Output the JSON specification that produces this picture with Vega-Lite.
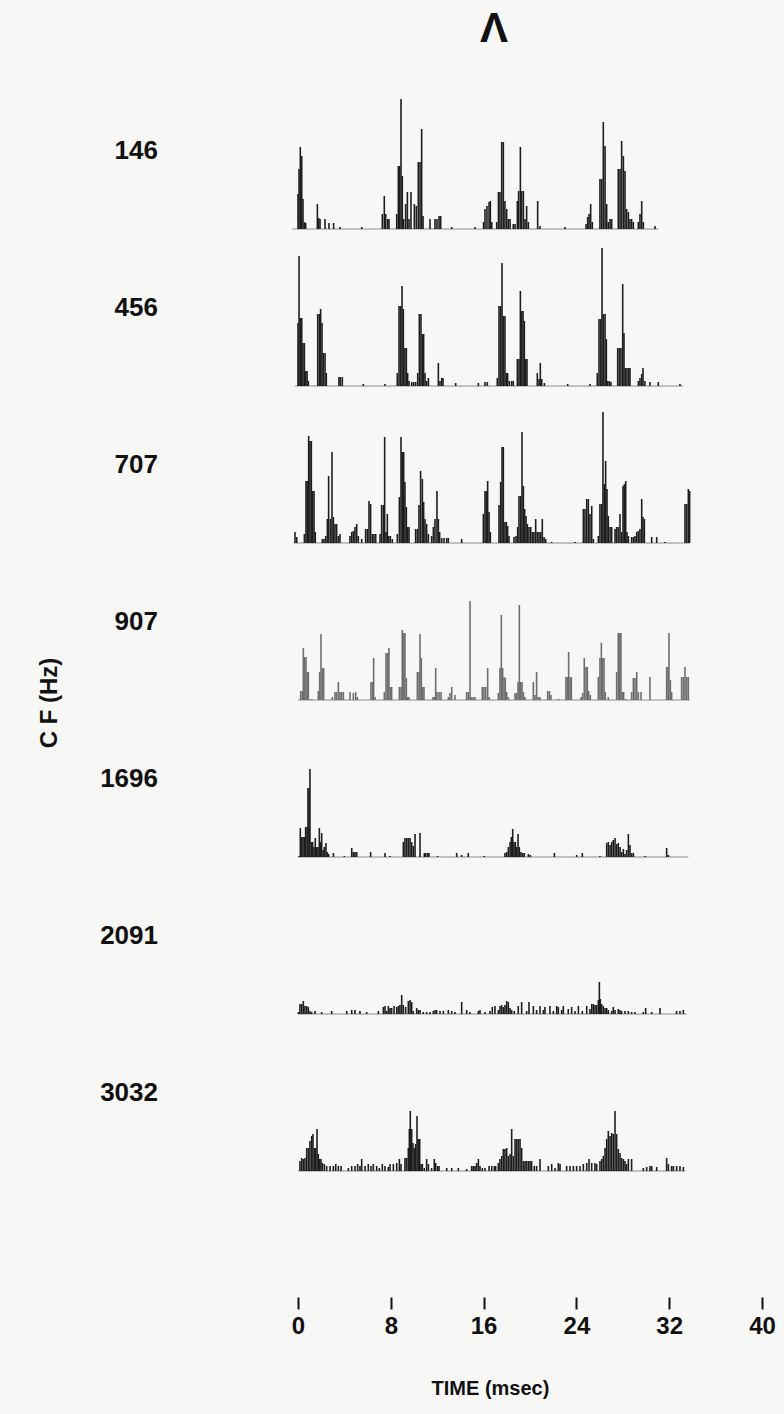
{
"$schema": "https://vega.github.io/schema/vega-lite/v6.json",
"padding": {"left": 38, "top": 8, "right": 10, "bottom": 22},
"background": "#f7f7f5",
"title": {"text": "Λ", "fontSize": 42, "fontWeight": "bold", "font": "Liberation Sans, Arial, sans-serif", "color": "#111111", "anchor": "middle", "frame": "group", "offset": 22, "dx": 196},
"data": {"values": [
{"c":"146","t":-0.5,"n":0},{"c":"146","t":0,"n":35},{"c":"146","t":0.09,"n":60},{"c":"146","t":0.2,"n":82},{"c":"146","t":0.32,"n":73},{"c":"146","t":0.43,"n":30},{"c":"146","t":0.55,"n":7},{"c":"146","t":0.66,"n":6},{"c":"146","t":1.67,"n":25},{"c":"146","t":1.78,"n":11},{"c":"146","t":1.9,"n":10},{"c":"146","t":2.33,"n":10},{"c":"146","t":2.67,"n":6},{"c":"146","t":3.07,"n":6},{"c":"146","t":3.62,"n":2},{"c":"146","t":5.49,"n":2},{"c":"146","t":7.27,"n":15},{"c":"146","t":7.44,"n":33},{"c":"146","t":7.56,"n":15},{"c":"146","t":7.73,"n":10},{"c":"146","t":7.84,"n":10},{"c":"146","t":8.51,"n":15},{"c":"146","t":8.65,"n":63},{"c":"146","t":8.76,"n":63},{"c":"146","t":8.88,"n":130},{"c":"146","t":8.99,"n":53},{"c":"146","t":9.11,"n":10},{"c":"146","t":9.28,"n":25},{"c":"146","t":9.43,"n":37},{"c":"146","t":9.57,"n":10},{"c":"146","t":9.74,"n":37},{"c":"146","t":10.03,"n":25},{"c":"146","t":10.2,"n":23},{"c":"146","t":10.37,"n":67},{"c":"146","t":10.52,"n":67},{"c":"146","t":10.66,"n":100},{"c":"146","t":10.78,"n":13},{"c":"146","t":11.38,"n":10},{"c":"146","t":11.81,"n":10},{"c":"146","t":11.98,"n":10},{"c":"146","t":12.16,"n":13},{"c":"146","t":12.3,"n":13},{"c":"146","t":13.25,"n":2},{"c":"146","t":15.26,"n":2},{"c":"146","t":16.0,"n":7},{"c":"146","t":16.12,"n":20},{"c":"146","t":16.29,"n":23},{"c":"146","t":16.47,"n":27},{"c":"146","t":16.58,"n":28},{"c":"146","t":16.7,"n":7},{"c":"146","t":17.13,"n":7},{"c":"146","t":17.28,"n":37},{"c":"146","t":17.41,"n":37},{"c":"146","t":17.56,"n":87},{"c":"146","t":17.7,"n":87},{"c":"146","t":17.84,"n":28},{"c":"146","t":17.99,"n":20},{"c":"146","t":18.13,"n":10},{"c":"146","t":18.28,"n":10},{"c":"146","t":18.56,"n":5},{"c":"146","t":18.71,"n":5},{"c":"146","t":18.91,"n":28},{"c":"146","t":19.02,"n":38},{"c":"146","t":19.17,"n":82},{"c":"146","t":19.28,"n":38},{"c":"146","t":19.43,"n":38},{"c":"146","t":19.57,"n":10},{"c":"146","t":19.71,"n":23},{"c":"146","t":19.86,"n":7},{"c":"146","t":20.66,"n":28},{"c":"146","t":20.86,"n":3},{"c":"146","t":23.02,"n":2},{"c":"146","t":24.83,"n":5},{"c":"146","t":24.97,"n":12},{"c":"146","t":25.09,"n":15},{"c":"146","t":25.23,"n":25},{"c":"146","t":25.37,"n":7},{"c":"146","t":26.03,"n":50},{"c":"146","t":26.18,"n":50},{"c":"146","t":26.32,"n":107},{"c":"146","t":26.47,"n":83},{"c":"146","t":26.61,"n":25},{"c":"146","t":26.75,"n":7},{"c":"146","t":26.9,"n":10},{"c":"146","t":27.04,"n":10},{"c":"146","t":27.61,"n":60},{"c":"146","t":27.76,"n":60},{"c":"146","t":27.9,"n":88},{"c":"146","t":28.05,"n":73},{"c":"146","t":28.19,"n":58},{"c":"146","t":28.33,"n":20},{"c":"146","t":28.48,"n":17},{"c":"146","t":28.62,"n":10},{"c":"146","t":28.76,"n":10},{"c":"146","t":28.91,"n":7},{"c":"146","t":29.34,"n":7},{"c":"146","t":29.48,"n":15},{"c":"146","t":29.63,"n":28},{"c":"146","t":29.77,"n":7},{"c":"146","t":30.78,"n":3},{"c":"146","t":31.1,"n":0},
{"c":"456","t":-0.26,"n":0},{"c":"456","t":0,"n":63},{"c":"456","t":0.09,"n":130},{"c":"456","t":0.2,"n":68},{"c":"456","t":0.32,"n":68},{"c":"456","t":0.43,"n":43},{"c":"456","t":0.55,"n":43},{"c":"456","t":0.66,"n":15},{"c":"456","t":0.78,"n":15},{"c":"456","t":0.89,"n":5},{"c":"456","t":1.7,"n":72},{"c":"456","t":1.84,"n":72},{"c":"456","t":1.95,"n":77},{"c":"456","t":2.07,"n":63},{"c":"456","t":2.18,"n":33},{"c":"456","t":2.33,"n":33},{"c":"456","t":2.44,"n":13},{"c":"456","t":3.53,"n":9},{"c":"456","t":3.65,"n":9},{"c":"456","t":3.82,"n":9},{"c":"456","t":5.63,"n":2},{"c":"456","t":7.5,"n":2},{"c":"456","t":8.56,"n":13},{"c":"456","t":8.71,"n":80},{"c":"456","t":8.85,"n":80},{"c":"456","t":8.97,"n":100},{"c":"456","t":9.08,"n":77},{"c":"456","t":9.22,"n":38},{"c":"456","t":9.34,"n":38},{"c":"456","t":9.45,"n":13},{"c":"456","t":9.57,"n":5},{"c":"456","t":9.8,"n":4},{"c":"456","t":9.97,"n":4},{"c":"456","t":10.14,"n":4},{"c":"456","t":10.32,"n":13},{"c":"456","t":10.46,"n":72},{"c":"456","t":10.6,"n":72},{"c":"456","t":10.72,"n":52},{"c":"456","t":10.83,"n":52},{"c":"456","t":10.95,"n":13},{"c":"456","t":11.09,"n":5},{"c":"456","t":11.24,"n":8},{"c":"456","t":12.1,"n":23},{"c":"456","t":12.24,"n":5},{"c":"456","t":12.39,"n":8},{"c":"456","t":12.5,"n":8},{"c":"456","t":13.59,"n":3},{"c":"456","t":15.55,"n":3},{"c":"456","t":16.12,"n":4},{"c":"456","t":16.32,"n":4},{"c":"456","t":17.18,"n":8},{"c":"456","t":17.33,"n":80},{"c":"456","t":17.47,"n":80},{"c":"456","t":17.59,"n":123},{"c":"456","t":17.7,"n":70},{"c":"456","t":17.84,"n":70},{"c":"456","t":17.96,"n":13},{"c":"456","t":18.07,"n":13},{"c":"456","t":18.22,"n":5},{"c":"456","t":18.42,"n":5},{"c":"456","t":18.56,"n":5},{"c":"456","t":18.91,"n":27},{"c":"456","t":19.05,"n":27},{"c":"456","t":19.17,"n":95},{"c":"456","t":19.28,"n":75},{"c":"456","t":19.4,"n":75},{"c":"456","t":19.51,"n":65},{"c":"456","t":19.63,"n":27},{"c":"456","t":19.74,"n":27},{"c":"456","t":20.63,"n":13},{"c":"456","t":20.78,"n":7},{"c":"456","t":20.89,"n":23},{"c":"456","t":21.01,"n":7},{"c":"456","t":21.24,"n":3},{"c":"456","t":23.25,"n":2},{"c":"456","t":25.17,"n":2},{"c":"456","t":25.8,"n":13},{"c":"456","t":25.95,"n":67},{"c":"456","t":26.09,"n":67},{"c":"456","t":26.21,"n":138},{"c":"456","t":26.32,"n":72},{"c":"456","t":26.47,"n":72},{"c":"456","t":26.58,"n":47},{"c":"456","t":26.7,"n":5},{"c":"456","t":26.84,"n":5},{"c":"456","t":26.98,"n":4},{"c":"456","t":27.56,"n":38},{"c":"456","t":27.7,"n":38},{"c":"456","t":27.84,"n":38},{"c":"456","t":27.99,"n":102},{"c":"456","t":28.1,"n":53},{"c":"456","t":28.22,"n":18},{"c":"456","t":28.36,"n":18},{"c":"456","t":28.51,"n":18},{"c":"456","t":28.62,"n":18},{"c":"456","t":29.34,"n":5},{"c":"456","t":29.48,"n":8},{"c":"456","t":29.63,"n":12},{"c":"456","t":29.74,"n":18},{"c":"456","t":29.91,"n":5},{"c":"456","t":30.34,"n":4},{"c":"456","t":31.06,"n":4},{"c":"456","t":32.93,"n":2},{"c":"456","t":33.2,"n":0},
{"c":"707","t":-0.4,"n":0},{"c":"707","t":-0.26,"n":11},{"c":"707","t":-0.11,"n":6},{"c":"707","t":0.55,"n":9},{"c":"707","t":0.69,"n":62},{"c":"707","t":0.8,"n":62},{"c":"707","t":0.92,"n":107},{"c":"707","t":1.03,"n":102},{"c":"707","t":1.15,"n":102},{"c":"707","t":1.26,"n":52},{"c":"707","t":1.38,"n":52},{"c":"707","t":1.49,"n":11},{"c":"707","t":2.1,"n":4},{"c":"707","t":2.24,"n":4},{"c":"707","t":2.39,"n":7},{"c":"707","t":2.53,"n":24},{"c":"707","t":2.64,"n":67},{"c":"707","t":2.79,"n":24},{"c":"707","t":2.93,"n":91},{"c":"707","t":3.05,"n":26},{"c":"707","t":3.19,"n":19},{"c":"707","t":3.33,"n":19},{"c":"707","t":3.48,"n":7},{"c":"707","t":3.62,"n":9},{"c":"707","t":4.48,"n":7},{"c":"707","t":4.63,"n":11},{"c":"707","t":4.77,"n":12},{"c":"707","t":4.91,"n":16},{"c":"707","t":5.06,"n":19},{"c":"707","t":5.2,"n":7},{"c":"707","t":5.49,"n":4},{"c":"707","t":5.83,"n":14},{"c":"707","t":5.98,"n":14},{"c":"707","t":6.12,"n":42},{"c":"707","t":6.26,"n":39},{"c":"707","t":6.41,"n":9},{"c":"707","t":6.55,"n":9},{"c":"707","t":6.7,"n":9},{"c":"707","t":7.07,"n":9},{"c":"707","t":7.21,"n":38},{"c":"707","t":7.36,"n":38},{"c":"707","t":7.47,"n":106},{"c":"707","t":7.59,"n":11},{"c":"707","t":7.7,"n":29},{"c":"707","t":7.82,"n":7},{"c":"707","t":7.96,"n":7},{"c":"707","t":8.13,"n":4},{"c":"707","t":8.56,"n":9},{"c":"707","t":8.74,"n":46},{"c":"707","t":8.88,"n":106},{"c":"707","t":8.99,"n":91},{"c":"707","t":9.11,"n":91},{"c":"707","t":9.22,"n":61},{"c":"707","t":9.34,"n":36},{"c":"707","t":9.45,"n":16},{"c":"707","t":9.57,"n":16},{"c":"707","t":10.14,"n":14},{"c":"707","t":10.29,"n":14},{"c":"707","t":10.43,"n":38},{"c":"707","t":10.57,"n":72},{"c":"707","t":10.72,"n":64},{"c":"707","t":10.83,"n":41},{"c":"707","t":10.95,"n":24},{"c":"707","t":11.09,"n":19},{"c":"707","t":11.24,"n":9},{"c":"707","t":11.52,"n":7},{"c":"707","t":11.67,"n":16},{"c":"707","t":11.81,"n":24},{"c":"707","t":11.98,"n":52},{"c":"707","t":12.1,"n":24},{"c":"707","t":12.21,"n":11},{"c":"707","t":12.39,"n":5},{"c":"707","t":12.59,"n":5},{"c":"707","t":12.82,"n":5},{"c":"707","t":12.96,"n":5},{"c":"707","t":14.11,"n":4},{"c":"707","t":15.98,"n":29},{"c":"707","t":16.12,"n":52},{"c":"707","t":16.24,"n":52},{"c":"707","t":16.35,"n":62},{"c":"707","t":16.47,"n":31},{"c":"707","t":16.58,"n":11},{"c":"707","t":17.33,"n":38},{"c":"707","t":17.47,"n":61},{"c":"707","t":17.59,"n":96},{"c":"707","t":17.7,"n":96},{"c":"707","t":17.84,"n":21},{"c":"707","t":17.96,"n":21},{"c":"707","t":18.07,"n":17},{"c":"707","t":18.19,"n":7},{"c":"707","t":18.62,"n":6},{"c":"707","t":18.79,"n":7},{"c":"707","t":18.94,"n":16},{"c":"707","t":19.05,"n":47},{"c":"707","t":19.2,"n":47},{"c":"707","t":19.31,"n":111},{"c":"707","t":19.43,"n":57},{"c":"707","t":19.54,"n":34},{"c":"707","t":19.66,"n":27},{"c":"707","t":19.77,"n":19},{"c":"707","t":19.91,"n":16},{"c":"707","t":20.06,"n":16},{"c":"707","t":20.2,"n":11},{"c":"707","t":20.34,"n":11},{"c":"707","t":20.49,"n":24},{"c":"707","t":20.63,"n":11},{"c":"707","t":20.78,"n":11},{"c":"707","t":20.92,"n":11},{"c":"707","t":21.06,"n":24},{"c":"707","t":21.21,"n":6},{"c":"707","t":21.35,"n":4},{"c":"707","t":21.87,"n":1},{"c":"707","t":23.88,"n":1},{"c":"707","t":24.6,"n":34},{"c":"707","t":24.74,"n":34},{"c":"707","t":24.89,"n":44},{"c":"707","t":25.03,"n":44},{"c":"707","t":25.17,"n":29},{"c":"707","t":25.32,"n":37},{"c":"707","t":25.46,"n":4},{"c":"707","t":25.89,"n":7},{"c":"707","t":26.03,"n":39},{"c":"707","t":26.18,"n":39},{"c":"707","t":26.29,"n":131},{"c":"707","t":26.41,"n":59},{"c":"707","t":26.52,"n":82},{"c":"707","t":26.64,"n":54},{"c":"707","t":26.75,"n":27},{"c":"707","t":26.9,"n":16},{"c":"707","t":27.04,"n":16},{"c":"707","t":27.33,"n":14},{"c":"707","t":27.47,"n":16},{"c":"707","t":27.61,"n":16},{"c":"707","t":27.76,"n":29},{"c":"707","t":27.9,"n":11},{"c":"707","t":28.02,"n":57},{"c":"707","t":28.13,"n":59},{"c":"707","t":28.25,"n":62},{"c":"707","t":28.36,"n":11},{"c":"707","t":28.48,"n":7},{"c":"707","t":28.76,"n":6},{"c":"707","t":28.91,"n":6},{"c":"707","t":29.05,"n":7},{"c":"707","t":29.2,"n":11},{"c":"707","t":29.34,"n":12},{"c":"707","t":29.48,"n":14},{"c":"707","t":29.63,"n":44},{"c":"707","t":29.74,"n":26},{"c":"707","t":29.86,"n":24},{"c":"707","t":30.49,"n":6},{"c":"707","t":30.92,"n":6},{"c":"707","t":31.64,"n":1},{"c":"707","t":33.36,"n":39},{"c":"707","t":33.51,"n":39},{"c":"707","t":33.65,"n":54},{"c":"707","t":33.76,"n":52},
{"c":"907","t":0,"n":0},{"c":"907","t":0.23,"n":9},{"c":"907","t":0.37,"n":9},{"c":"907","t":0.46,"n":52},{"c":"907","t":0.57,"n":43},{"c":"907","t":0.69,"n":43},{"c":"907","t":0.8,"n":28},{"c":"907","t":0.89,"n":28},{"c":"907","t":1.18,"n":1},{"c":"907","t":1.75,"n":9},{"c":"907","t":1.87,"n":28},{"c":"907","t":1.98,"n":66},{"c":"907","t":2.1,"n":32},{"c":"907","t":2.21,"n":32},{"c":"907","t":2.96,"n":3},{"c":"907","t":3.19,"n":8},{"c":"907","t":3.33,"n":8},{"c":"907","t":3.48,"n":18},{"c":"907","t":3.62,"n":8},{"c":"907","t":3.76,"n":8},{"c":"907","t":3.91,"n":8},{"c":"907","t":4.48,"n":8},{"c":"907","t":4.77,"n":7},{"c":"907","t":4.97,"n":8},{"c":"907","t":5.11,"n":3},{"c":"907","t":6.29,"n":18},{"c":"907","t":6.44,"n":18},{"c":"907","t":6.52,"n":42},{"c":"907","t":6.64,"n":3},{"c":"907","t":7.44,"n":8},{"c":"907","t":7.59,"n":47},{"c":"907","t":7.73,"n":47},{"c":"907","t":7.84,"n":52},{"c":"907","t":7.96,"n":13},{"c":"907","t":8.07,"n":13},{"c":"907","t":8.74,"n":13},{"c":"907","t":8.88,"n":13},{"c":"907","t":8.99,"n":70},{"c":"907","t":9.11,"n":67},{"c":"907","t":9.22,"n":67},{"c":"907","t":9.34,"n":22},{"c":"907","t":9.45,"n":3},{"c":"907","t":9.57,"n":3},{"c":"907","t":10.29,"n":28},{"c":"907","t":10.43,"n":28},{"c":"907","t":10.52,"n":66},{"c":"907","t":10.63,"n":42},{"c":"907","t":10.75,"n":13},{"c":"907","t":10.86,"n":13},{"c":"907","t":11.64,"n":3},{"c":"907","t":11.75,"n":3},{"c":"907","t":11.87,"n":32},{"c":"907","t":11.98,"n":8},{"c":"907","t":12.16,"n":8},{"c":"907","t":12.33,"n":8},{"c":"907","t":12.96,"n":3},{"c":"907","t":13.1,"n":7},{"c":"907","t":13.25,"n":13},{"c":"907","t":13.53,"n":5},{"c":"907","t":14.54,"n":8},{"c":"907","t":14.68,"n":8},{"c":"907","t":14.83,"n":99},{"c":"907","t":14.97,"n":3},{"c":"907","t":15.11,"n":3},{"c":"907","t":15.26,"n":3},{"c":"907","t":15.89,"n":13},{"c":"907","t":16.03,"n":13},{"c":"907","t":16.18,"n":13},{"c":"907","t":16.35,"n":32},{"c":"907","t":16.49,"n":3},{"c":"907","t":17.27,"n":7},{"c":"907","t":17.41,"n":32},{"c":"907","t":17.53,"n":85},{"c":"907","t":17.64,"n":32},{"c":"907","t":17.76,"n":23},{"c":"907","t":17.87,"n":22},{"c":"907","t":17.99,"n":8},{"c":"907","t":18.13,"n":3},{"c":"907","t":18.71,"n":7},{"c":"907","t":18.85,"n":7},{"c":"907","t":18.97,"n":18},{"c":"907","t":19.08,"n":95},{"c":"907","t":19.2,"n":18},{"c":"907","t":19.31,"n":18},{"c":"907","t":19.43,"n":8},{"c":"907","t":19.57,"n":3},{"c":"907","t":20.29,"n":18},{"c":"907","t":20.43,"n":5},{"c":"907","t":20.57,"n":28},{"c":"907","t":20.72,"n":3},{"c":"907","t":20.86,"n":3},{"c":"907","t":21.52,"n":9},{"c":"907","t":21.67,"n":9},{"c":"907","t":21.81,"n":5},{"c":"907","t":22.44,"n":1},{"c":"907","t":23.1,"n":23},{"c":"907","t":23.22,"n":23},{"c":"907","t":23.33,"n":48},{"c":"907","t":23.45,"n":23},{"c":"907","t":23.56,"n":23},{"c":"907","t":24.4,"n":3},{"c":"907","t":24.54,"n":7},{"c":"907","t":24.68,"n":42},{"c":"907","t":24.83,"n":33},{"c":"907","t":24.94,"n":33},{"c":"907","t":25.06,"n":9},{"c":"907","t":25.2,"n":5},{"c":"907","t":25.89,"n":23},{"c":"907","t":26.03,"n":42},{"c":"907","t":26.15,"n":57},{"c":"907","t":26.26,"n":42},{"c":"907","t":26.38,"n":42},{"c":"907","t":26.49,"n":8},{"c":"907","t":26.75,"n":3},{"c":"907","t":27.47,"n":28},{"c":"907","t":27.61,"n":67},{"c":"907","t":27.73,"n":67},{"c":"907","t":27.84,"n":67},{"c":"907","t":27.96,"n":8},{"c":"907","t":28.07,"n":8},{"c":"907","t":28.25,"n":1},{"c":"907","t":28.76,"n":8},{"c":"907","t":28.91,"n":22},{"c":"907","t":29.05,"n":22},{"c":"907","t":29.2,"n":28},{"c":"907","t":29.34,"n":8},{"c":"907","t":29.57,"n":8},{"c":"907","t":30.34,"n":23},{"c":"907","t":31.78,"n":33},{"c":"907","t":31.9,"n":33},{"c":"907","t":31.98,"n":67},{"c":"907","t":32.1,"n":20},{"c":"907","t":32.21,"n":8},{"c":"907","t":33.07,"n":23},{"c":"907","t":33.22,"n":23},{"c":"907","t":33.36,"n":33},{"c":"907","t":33.51,"n":23},{"c":"907","t":33.65,"n":23},{"c":"907","t":33.8,"n":0},
{"c":"1696","t":0,"n":0},{"c":"1696","t":0.09,"n":1},{"c":"1696","t":0.2,"n":29},{"c":"1696","t":0.32,"n":20},{"c":"1696","t":0.43,"n":20},{"c":"1696","t":0.55,"n":20},{"c":"1696","t":0.66,"n":30},{"c":"1696","t":0.78,"n":30},{"c":"1696","t":0.86,"n":69},{"c":"1696","t":0.95,"n":69},{"c":"1696","t":1.03,"n":88},{"c":"1696","t":1.15,"n":15},{"c":"1696","t":1.26,"n":15},{"c":"1696","t":1.38,"n":10},{"c":"1696","t":1.49,"n":19},{"c":"1696","t":1.61,"n":10},{"c":"1696","t":1.72,"n":10},{"c":"1696","t":1.84,"n":29},{"c":"1696","t":1.95,"n":15},{"c":"1696","t":2.04,"n":24},{"c":"1696","t":2.16,"n":7},{"c":"1696","t":2.27,"n":10},{"c":"1696","t":2.41,"n":14},{"c":"1696","t":2.53,"n":5},{"c":"1696","t":2.64,"n":3},{"c":"1696","t":3.05,"n":4},{"c":"1696","t":3.99,"n":1},{"c":"1696","t":4.63,"n":9},{"c":"1696","t":4.77,"n":5},{"c":"1696","t":4.91,"n":5},{"c":"1696","t":5.06,"n":5},{"c":"1696","t":6.26,"n":5},{"c":"1696","t":7.5,"n":4},{"c":"1696","t":7.93,"n":1},{"c":"1696","t":9.08,"n":15},{"c":"1696","t":9.22,"n":19},{"c":"1696","t":9.37,"n":19},{"c":"1696","t":9.51,"n":19},{"c":"1696","t":9.66,"n":19},{"c":"1696","t":9.8,"n":15},{"c":"1696","t":9.94,"n":11},{"c":"1696","t":10.09,"n":23},{"c":"1696","t":10.52,"n":24},{"c":"1696","t":10.89,"n":4},{"c":"1696","t":11.01,"n":4},{"c":"1696","t":11.18,"n":4},{"c":"1696","t":11.29,"n":4},{"c":"1696","t":12.04,"n":1},{"c":"1696","t":13.68,"n":4},{"c":"1696","t":14.11,"n":2},{"c":"1696","t":14.68,"n":4},{"c":"1696","t":16.06,"n":1},{"c":"1696","t":17.84,"n":4},{"c":"1696","t":17.99,"n":5},{"c":"1696","t":18.13,"n":10},{"c":"1696","t":18.28,"n":15},{"c":"1696","t":18.39,"n":20},{"c":"1696","t":18.51,"n":28},{"c":"1696","t":18.62,"n":15},{"c":"1696","t":18.74,"n":15},{"c":"1696","t":18.85,"n":10},{"c":"1696","t":18.97,"n":23},{"c":"1696","t":19.08,"n":10},{"c":"1696","t":19.22,"n":5},{"c":"1696","t":19.37,"n":4},{"c":"1696","t":19.51,"n":4},{"c":"1696","t":19.86,"n":3},{"c":"1696","t":20.03,"n":2},{"c":"1696","t":22.1,"n":4},{"c":"1696","t":24.02,"n":2},{"c":"1696","t":24.51,"n":4},{"c":"1696","t":26.03,"n":1},{"c":"1696","t":26.61,"n":14},{"c":"1696","t":26.75,"n":15},{"c":"1696","t":26.9,"n":12},{"c":"1696","t":27.04,"n":15},{"c":"1696","t":27.18,"n":17},{"c":"1696","t":27.33,"n":19},{"c":"1696","t":27.47,"n":13},{"c":"1696","t":27.61,"n":14},{"c":"1696","t":27.76,"n":10},{"c":"1696","t":27.9,"n":5},{"c":"1696","t":28.05,"n":8},{"c":"1696","t":28.19,"n":3},{"c":"1696","t":28.33,"n":7},{"c":"1696","t":28.48,"n":23},{"c":"1696","t":28.62,"n":12},{"c":"1696","t":28.76,"n":4},{"c":"1696","t":28.91,"n":4},{"c":"1696","t":29.91,"n":1},{"c":"1696","t":31.78,"n":9},{"c":"1696","t":31.93,"n":2},{"c":"1696","t":33.65,"n":0},
{"c":"2091","t":0,"n":0},{"c":"2091","t":0.03,"n":2},{"c":"2091","t":0.17,"n":10},{"c":"2091","t":0.32,"n":10},{"c":"2091","t":0.46,"n":13},{"c":"2091","t":0.6,"n":8},{"c":"2091","t":0.75,"n":8},{"c":"2091","t":0.89,"n":7},{"c":"2091","t":1.03,"n":3},{"c":"2091","t":1.18,"n":2},{"c":"2091","t":1.47,"n":3},{"c":"2091","t":2.04,"n":2},{"c":"2091","t":2.9,"n":3},{"c":"2091","t":4.2,"n":3},{"c":"2091","t":4.63,"n":4},{"c":"2091","t":4.91,"n":4},{"c":"2091","t":5.34,"n":3},{"c":"2091","t":5.92,"n":2},{"c":"2091","t":6.93,"n":3},{"c":"2091","t":7.36,"n":7},{"c":"2091","t":7.5,"n":8},{"c":"2091","t":7.64,"n":3},{"c":"2091","t":7.79,"n":8},{"c":"2091","t":7.93,"n":6},{"c":"2091","t":8.07,"n":6},{"c":"2091","t":8.28,"n":8},{"c":"2091","t":8.51,"n":7},{"c":"2091","t":8.65,"n":8},{"c":"2091","t":8.79,"n":9},{"c":"2091","t":8.94,"n":19},{"c":"2091","t":9.08,"n":9},{"c":"2091","t":9.28,"n":7},{"c":"2091","t":9.51,"n":13},{"c":"2091","t":9.66,"n":14},{"c":"2091","t":9.8,"n":12},{"c":"2091","t":9.94,"n":3},{"c":"2091","t":10.23,"n":6},{"c":"2091","t":10.37,"n":4},{"c":"2091","t":10.52,"n":4},{"c":"2091","t":10.8,"n":2},{"c":"2091","t":11.09,"n":2},{"c":"2091","t":11.38,"n":2},{"c":"2091","t":11.67,"n":3},{"c":"2091","t":11.81,"n":4},{"c":"2091","t":11.95,"n":4},{"c":"2091","t":12.24,"n":3},{"c":"2091","t":12.53,"n":3},{"c":"2091","t":12.96,"n":4},{"c":"2091","t":13.25,"n":3},{"c":"2091","t":13.53,"n":2},{"c":"2091","t":14.11,"n":12},{"c":"2091","t":14.54,"n":4},{"c":"2091","t":14.83,"n":2},{"c":"2091","t":15.55,"n":3},{"c":"2091","t":15.69,"n":4},{"c":"2091","t":16.12,"n":2},{"c":"2091","t":16.55,"n":3},{"c":"2091","t":16.75,"n":7},{"c":"2091","t":16.98,"n":8},{"c":"2091","t":17.27,"n":4},{"c":"2091","t":17.41,"n":8},{"c":"2091","t":17.56,"n":9},{"c":"2091","t":17.7,"n":7},{"c":"2091","t":17.84,"n":9},{"c":"2091","t":17.99,"n":13},{"c":"2091","t":18.13,"n":12},{"c":"2091","t":18.28,"n":6},{"c":"2091","t":18.42,"n":4},{"c":"2091","t":18.65,"n":3},{"c":"2091","t":18.99,"n":8},{"c":"2091","t":19.28,"n":12},{"c":"2091","t":19.71,"n":3},{"c":"2091","t":19.91,"n":12},{"c":"2091","t":20.29,"n":8},{"c":"2091","t":20.57,"n":4},{"c":"2091","t":20.86,"n":8},{"c":"2091","t":21.15,"n":4},{"c":"2091","t":21.29,"n":7},{"c":"2091","t":21.72,"n":8},{"c":"2091","t":22.01,"n":3},{"c":"2091","t":22.3,"n":8},{"c":"2091","t":22.44,"n":7},{"c":"2091","t":22.73,"n":4},{"c":"2091","t":22.87,"n":8},{"c":"2091","t":23.3,"n":5},{"c":"2091","t":23.59,"n":7},{"c":"2091","t":23.88,"n":3},{"c":"2091","t":24.17,"n":8},{"c":"2091","t":24.51,"n":3},{"c":"2091","t":24.89,"n":8},{"c":"2091","t":25.17,"n":5},{"c":"2091","t":25.32,"n":10},{"c":"2091","t":25.46,"n":10},{"c":"2091","t":25.6,"n":9},{"c":"2091","t":25.75,"n":9},{"c":"2091","t":25.89,"n":14},{"c":"2091","t":25.98,"n":32},{"c":"2091","t":26.06,"n":15},{"c":"2091","t":26.18,"n":10},{"c":"2091","t":26.32,"n":8},{"c":"2091","t":26.47,"n":6},{"c":"2091","t":26.61,"n":6},{"c":"2091","t":26.75,"n":4},{"c":"2091","t":27.04,"n":3},{"c":"2091","t":27.18,"n":7},{"c":"2091","t":27.33,"n":4},{"c":"2091","t":27.61,"n":5},{"c":"2091","t":27.76,"n":4},{"c":"2091","t":27.9,"n":3},{"c":"2091","t":28.19,"n":3},{"c":"2091","t":28.48,"n":3},{"c":"2091","t":28.76,"n":2},{"c":"2091","t":29.05,"n":2},{"c":"2091","t":29.77,"n":2},{"c":"2091","t":29.97,"n":6},{"c":"2091","t":30.49,"n":2},{"c":"2091","t":31.21,"n":6},{"c":"2091","t":32.64,"n":3},{"c":"2091","t":32.93,"n":3},{"c":"2091","t":33.22,"n":4},{"c":"2091","t":33.5,"n":0},
{"c":"3032","t":0,"n":0},{"c":"3032","t":0.17,"n":10},{"c":"3032","t":0.32,"n":13},{"c":"3032","t":0.46,"n":12},{"c":"3032","t":0.6,"n":13},{"c":"3032","t":0.75,"n":23},{"c":"3032","t":0.89,"n":23},{"c":"3032","t":1.03,"n":30},{"c":"3032","t":1.18,"n":35},{"c":"3032","t":1.29,"n":37},{"c":"3032","t":1.41,"n":23},{"c":"3032","t":1.52,"n":23},{"c":"3032","t":1.64,"n":42},{"c":"3032","t":1.75,"n":17},{"c":"3032","t":1.87,"n":12},{"c":"3032","t":1.98,"n":12},{"c":"3032","t":2.1,"n":8},{"c":"3032","t":2.27,"n":7},{"c":"3032","t":2.47,"n":5},{"c":"3032","t":2.76,"n":5},{"c":"3032","t":3.05,"n":5},{"c":"3032","t":3.25,"n":7},{"c":"3032","t":3.48,"n":5},{"c":"3032","t":3.71,"n":5},{"c":"3032","t":4.34,"n":3},{"c":"3032","t":4.63,"n":5},{"c":"3032","t":4.91,"n":5},{"c":"3032","t":5.14,"n":7},{"c":"3032","t":5.34,"n":5},{"c":"3032","t":5.49,"n":12},{"c":"3032","t":5.78,"n":5},{"c":"3032","t":6.06,"n":7},{"c":"3032","t":6.29,"n":5},{"c":"3032","t":6.49,"n":7},{"c":"3032","t":6.78,"n":5},{"c":"3032","t":7.01,"n":3},{"c":"3032","t":7.27,"n":7},{"c":"3032","t":7.5,"n":5},{"c":"3032","t":7.79,"n":4},{"c":"3032","t":7.93,"n":7},{"c":"3032","t":8.22,"n":7},{"c":"3032","t":8.51,"n":8},{"c":"3032","t":8.74,"n":12},{"c":"3032","t":8.88,"n":7},{"c":"3032","t":9.22,"n":13},{"c":"3032","t":9.37,"n":13},{"c":"3032","t":9.51,"n":23},{"c":"3032","t":9.6,"n":42},{"c":"3032","t":9.68,"n":60},{"c":"3032","t":9.8,"n":42},{"c":"3032","t":9.91,"n":28},{"c":"3032","t":10.03,"n":23},{"c":"3032","t":10.14,"n":27},{"c":"3032","t":10.26,"n":55},{"c":"3032","t":10.37,"n":32},{"c":"3032","t":10.49,"n":32},{"c":"3032","t":10.6,"n":7},{"c":"3032","t":10.72,"n":7},{"c":"3032","t":10.89,"n":3},{"c":"3032","t":11.09,"n":12},{"c":"3032","t":11.24,"n":7},{"c":"3032","t":11.52,"n":3},{"c":"3032","t":11.75,"n":12},{"c":"3032","t":11.87,"n":8},{"c":"3032","t":12.04,"n":5},{"c":"3032","t":12.16,"n":5},{"c":"3032","t":12.82,"n":3},{"c":"3032","t":13.25,"n":3},{"c":"3032","t":13.82,"n":3},{"c":"3032","t":14.54,"n":2},{"c":"3032","t":14.97,"n":5},{"c":"3032","t":15.11,"n":5},{"c":"3032","t":15.26,"n":5},{"c":"3032","t":15.4,"n":8},{"c":"3032","t":15.55,"n":12},{"c":"3032","t":15.69,"n":5},{"c":"3032","t":15.89,"n":3},{"c":"3032","t":16.12,"n":3},{"c":"3032","t":16.47,"n":5},{"c":"3032","t":16.7,"n":5},{"c":"3032","t":16.93,"n":5},{"c":"3032","t":17.04,"n":5},{"c":"3032","t":17.27,"n":8},{"c":"3032","t":17.41,"n":12},{"c":"3032","t":17.56,"n":15},{"c":"3032","t":17.7,"n":22},{"c":"3032","t":17.84,"n":22},{"c":"3032","t":17.99,"n":23},{"c":"3032","t":18.13,"n":15},{"c":"3032","t":18.28,"n":17},{"c":"3032","t":18.42,"n":42},{"c":"3032","t":18.56,"n":15},{"c":"3032","t":18.71,"n":32},{"c":"3032","t":18.85,"n":32},{"c":"3032","t":18.99,"n":32},{"c":"3032","t":19.14,"n":32},{"c":"3032","t":19.28,"n":23},{"c":"3032","t":19.43,"n":10},{"c":"3032","t":19.57,"n":10},{"c":"3032","t":19.71,"n":10},{"c":"3032","t":19.86,"n":10},{"c":"3032","t":20.0,"n":10},{"c":"3032","t":20.14,"n":10},{"c":"3032","t":20.37,"n":5},{"c":"3032","t":20.57,"n":5},{"c":"3032","t":20.86,"n":12},{"c":"3032","t":21.58,"n":5},{"c":"3032","t":21.87,"n":7},{"c":"3032","t":22.16,"n":3},{"c":"3032","t":22.44,"n":8},{"c":"3032","t":22.59,"n":7},{"c":"3032","t":23.16,"n":5},{"c":"3032","t":23.45,"n":5},{"c":"3032","t":23.74,"n":5},{"c":"3032","t":24.02,"n":5},{"c":"3032","t":24.31,"n":5},{"c":"3032","t":24.6,"n":7},{"c":"3032","t":24.89,"n":8},{"c":"3032","t":25.09,"n":12},{"c":"3032","t":25.32,"n":8},{"c":"3032","t":25.6,"n":8},{"c":"3032","t":25.75,"n":7},{"c":"3032","t":26.03,"n":10},{"c":"3032","t":26.18,"n":12},{"c":"3032","t":26.32,"n":15},{"c":"3032","t":26.47,"n":23},{"c":"3032","t":26.61,"n":32},{"c":"3032","t":26.75,"n":40},{"c":"3032","t":26.9,"n":35},{"c":"3032","t":27.04,"n":38},{"c":"3032","t":27.18,"n":37},{"c":"3032","t":27.33,"n":60},{"c":"3032","t":27.47,"n":37},{"c":"3032","t":27.61,"n":22},{"c":"3032","t":27.76,"n":18},{"c":"3032","t":27.9,"n":13},{"c":"3032","t":28.05,"n":12},{"c":"3032","t":28.19,"n":10},{"c":"3032","t":28.33,"n":7},{"c":"3032","t":28.48,"n":12},{"c":"3032","t":28.76,"n":12},{"c":"3032","t":29.77,"n":3},{"c":"3032","t":30.06,"n":4},{"c":"3032","t":30.34,"n":5},{"c":"3032","t":30.49,"n":5},{"c":"3032","t":30.92,"n":4},{"c":"3032","t":31.78,"n":13},{"c":"3032","t":31.93,"n":7},{"c":"3032","t":32.21,"n":5},{"c":"3032","t":32.36,"n":5},{"c":"3032","t":32.64,"n":5},{"c":"3032","t":32.93,"n":5},{"c":"3032","t":33.22,"n":4},{"c":"3032","t":33.4,"n":0}
]},
"spacing": {"row": 0},
"facet": {"row": {"field": "c", "type": "ordinal", "sort": ["146","456","707","907","1696","2091","3032"], "title": "C F (Hz)\u2800\u2800\u2800\u2800\u2800\u2800\u2800\u2800\u2800",
  "header": {"labelAngle": 0, "labelOrient": "left", "labelAlign": "left", "labelAnchor": "middle", "labelBaseline": "middle", "labelFont": "Liberation Sans, Arial, sans-serif", "labelFontSize": 26, "labelFontWeight": "bold", "labelColor": "#111111", "labelPadding": 133,
    "titleOrient": "left", "titleAngle": -90, "titleFont": "Liberation Sans, Arial, sans-serif", "titleFontSize": 24, "titleFontWeight": "bold", "titleColor": "#111111", "titlePadding": 4}}},
"spec": {
  "width": 464, "height": 156,
  "layer": [
    {"mark": {"type": "rule", "color": "#8c8c8c", "strokeWidth": 1},
     "encoding": {
       "x": {"aggregate": "min", "field": "t", "type": "quantitative", "title": "TIME (msec)", "scale": {"domain": [0, 40], "nice": false},
             "axis": {"values": [0, 8, 16, 24, 32, 40], "domain": false, "grid": false, "tickSize": 12, "tickWidth": 2, "tickColor": "#111111", "offset": 125, "labelFont": "Liberation Sans, Arial, sans-serif", "labelFontSize": 24, "labelFontWeight": "bold", "labelColor": "#111111", "labelPadding": 5, "labelFlush": false, "labelOverlap": false, "titleFont": "Liberation Sans, Arial, sans-serif", "titleFontSize": 20, "titleFontWeight": "bold", "titleColor": "#111111", "titlePadding": 40, "titleX": 192, "titleAlign": "center", "titleAnchor": null}},
       "x2": {"aggregate": "max", "field": "t"},
       "y": {"datum": 0, "type": "quantitative", "scale": {"domain": [0, 156], "nice": false}, "axis": null}}},
    {"mark": {"type": "rule", "strokeWidth": 1.6},
     "encoding": {
       "x": {"field": "t", "type": "quantitative", "title": "TIME (msec)", "scale": {"domain": [0, 40], "nice": false},
             "axis": {"values": [0, 8, 16, 24, 32, 40], "domain": false, "grid": false, "tickSize": 12, "tickWidth": 2, "tickColor": "#111111", "offset": 125, "labelFont": "Liberation Sans, Arial, sans-serif", "labelFontSize": 24, "labelFontWeight": "bold", "labelColor": "#111111", "labelPadding": 5, "labelFlush": false, "labelOverlap": false, "titleFont": "Liberation Sans, Arial, sans-serif", "titleFontSize": 20, "titleFontWeight": "bold", "titleColor": "#111111", "titlePadding": 40, "titleX": 192, "titleAlign": "center", "titleAnchor": null}},
       "y": {"field": "n", "type": "quantitative", "scale": {"domain": [0, 156], "nice": false}, "axis": null},
       "y2": {"datum": 0},
       "color": {"condition": {"test": "datum.c === '907'", "value": "#6e6e6e"}, "value": "#1e1e1e"}}}
  ]
},
"config": {"view": {"stroke": null}, "font": "Liberation Sans, Arial, sans-serif"}
}
